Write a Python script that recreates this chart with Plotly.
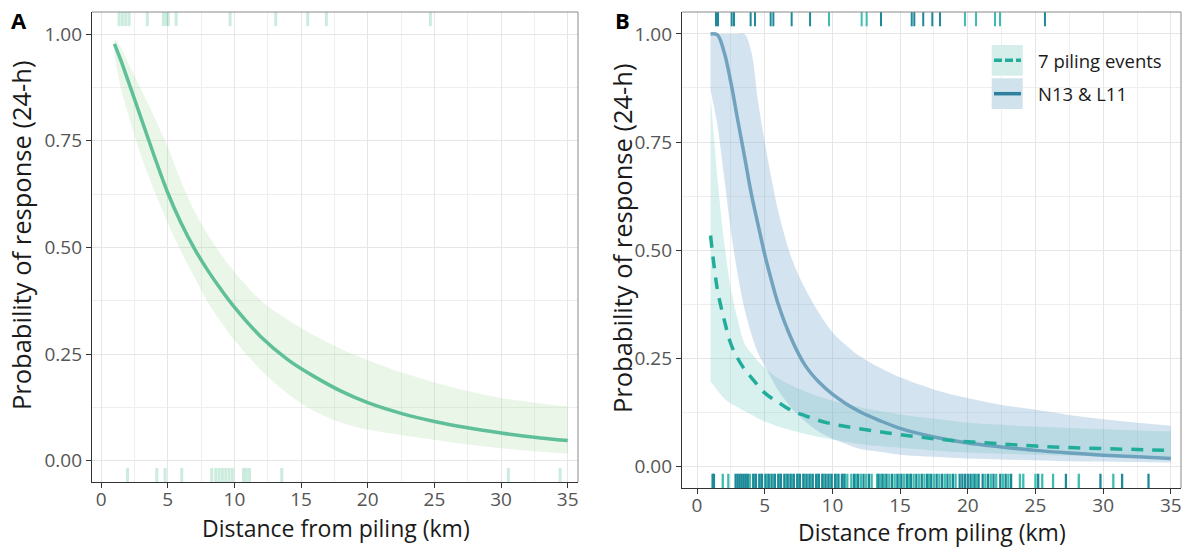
import plotly.graph_objects as go

# ---------------- Panel A data ----------------
dist_a = [1, 1.5, 2, 3, 4, 5, 6, 7, 8, 9, 10, 12, 14, 16, 18, 20, 22.5, 25, 27.5, 30, 32.5, 35]
fit_a = [0.977, 0.937, 0.893, 0.803, 0.713, 0.628, 0.557, 0.497, 0.446, 0.401, 0.360, 0.290, 0.237,
         0.197, 0.163, 0.136, 0.111, 0.092, 0.077, 0.065, 0.055, 0.047]
upper_a = [0.99, 0.968, 0.935, 0.87, 0.805, 0.735, 0.655, 0.585, 0.53, 0.483, 0.443, 0.375, 0.33,
           0.293, 0.262, 0.236, 0.207, 0.183, 0.163, 0.147, 0.136, 0.127]
lower_a = [0.95, 0.87, 0.815, 0.715, 0.632, 0.557, 0.49, 0.43, 0.372, 0.325, 0.283, 0.212, 0.157,
           0.116, 0.089, 0.073, 0.06, 0.049, 0.038, 0.029, 0.022, 0.016]
rug_a_top = [1.35, 1.6, 1.85, 2.1, 3.47, 4.67, 4.9, 5.05, 5.63, 9.68, 13.1, 15.5, 16.9, 24.7]
rug_a_bottom = [1.98, 4.18, 4.8, 6.05, 8.3, 8.6, 8.85, 9.1, 9.35, 9.6, 9.85, 10.68, 10.9, 11.13,
                13.55, 30.55, 34.43]

# ---------------- Panel B data ----------------
dist_b = [1, 1.5, 2, 2.5, 3, 3.5, 4, 4.5, 5, 5.5, 6, 7, 8, 9, 10, 11, 12, 13.5, 15, 17.5, 20,
          22.5, 25, 27.5, 30, 32.5, 35]
fit_n13 = [1.0, 0.998, 0.958, 0.888, 0.802, 0.718, 0.632, 0.56, 0.49, 0.43, 0.375, 0.293, 0.233,
           0.195, 0.167, 0.145, 0.127, 0.106, 0.088, 0.068, 0.054, 0.045, 0.037, 0.031, 0.026, 0.022, 0.018]
upper_n13 = [1.0, 1.0, 1.0, 1.0, 1.0, 1.0, 0.96, 0.845, 0.75, 0.665, 0.59, 0.48, 0.41, 0.355, 0.31,
             0.28, 0.255, 0.228, 0.206, 0.178, 0.158, 0.142, 0.131, 0.119, 0.109, 0.101, 0.094]
lower_n13 = [0.87, 0.79, 0.67, 0.545, 0.445, 0.365, 0.307, 0.262, 0.232, 0.203, 0.176, 0.134, 0.104,
             0.08, 0.064, 0.052, 0.041, 0.034, 0.027, 0.022, 0.018, 0.016, 0.014, 0.012, 0.011, 0.010, 0.009]
fit_7 = [0.534, 0.41, 0.34, 0.283, 0.25, 0.225, 0.206, 0.187, 0.17, 0.158, 0.148, 0.129, 0.117,
         0.106, 0.098, 0.092, 0.087, 0.080, 0.0735, 0.064, 0.057, 0.052, 0.047, 0.0435, 0.041, 0.039, 0.037]
upper_7 = [0.86, 0.67, 0.52, 0.41, 0.34, 0.285, 0.262, 0.243, 0.228, 0.215, 0.204, 0.187, 0.173,
           0.161, 0.152, 0.144, 0.137, 0.128, 0.12, 0.11, 0.101, 0.096, 0.092, 0.089, 0.086, 0.083, 0.081]
lower_7 = [0.196, 0.176, 0.157, 0.145, 0.137, 0.128, 0.12, 0.111, 0.104, 0.098, 0.092, 0.083, 0.075,
           0.068, 0.062, 0.057, 0.052, 0.047, 0.043, 0.037, 0.032, 0.029, 0.027, 0.025, 0.023, 0.021, 0.019]
rug_b_top_dark = [1.40, 1.55, 2.56, 2.73, 3.96, 4.28, 5.44, 5.64, 6.99, 8.35, 13.59, 15.86, 16.05,
                  16.71, 17.38, 17.95, 25.7]
rug_b_top_light = [9.75, 12.16, 12.53, 19.79, 20.61, 22.01, 22.38]
rug_b_bottom_dark = [1.15, 1.25, 2.85, 3.0, 3.15, 3.3, 3.45, 3.6, 3.75, 4.15, 4.35, 4.6, 4.8, 5.05,
                     5.3, 5.5, 5.75, 6.0, 6.2, 6.45, 6.7, 6.9, 7.15, 7.4, 7.6, 7.85, 8.1, 8.3, 8.55,
                     8.8, 9.0, 9.25, 9.5, 9.7, 9.95, 10.2, 10.45, 10.7, 10.9, 11.6, 11.9, 12.3, 12.7,
                     13.4, 13.7, 14.0, 14.4, 14.8, 15.1, 15.5, 15.8, 16.2, 16.6, 17.0, 17.3, 17.7,
                     18.1, 18.5, 18.9, 19.4, 19.6, 19.8, 20.0, 20.2, 20.5, 20.8, 21.1, 21.5, 21.9,
                     22.4, 22.8, 23.2, 25.2, 27.25, 29.8, 31.4, 33.35]
rug_b_bottom_light = [1.9, 2.31, 3.9, 4.25, 4.7, 5.2, 5.65, 6.1, 6.6, 7.0, 7.5, 7.95, 8.4, 8.95,
                      9.35, 9.85, 10.3, 10.8, 11.1, 11.4, 11.75, 12.1, 12.5, 12.9, 13.3, 13.55,
                      13.85, 14.2, 14.6, 14.95, 15.3, 15.65, 16.0, 16.4, 16.8, 17.15, 17.5, 17.9,
                      18.3, 18.7, 19.1, 20.35, 20.65, 21.3, 21.7, 22.1, 22.6, 23.0, 23.85, 24.1,
                      25.0, 25.5, 26.3, 28.2, 30.75]

x_ticks = [0, 5, 10, 15, 20, 25, 30, 35]
x_minor = [2.5, 7.5, 12.5, 17.5, 22.5, 27.5, 32.5]
y_ticks = [0, 0.25, 0.5, 0.75, 1.0]
y_ticklabels = ["0.00", "0.25", "0.50", "0.75", "1.00"]
y_minor = [0.125, 0.375, 0.625, 0.875]
legend_labels = ["7 piling events", "N13 & L11"]
x_title = "Distance from piling (km)"
y_title = "Probability of response (24-h)"

W, H = 1192, 547
FONT = "Open Sans"


def px(x):
    return x / W


def py(y):
    return 1 - y / H


fig = go.Figure()

# Panel A
fig.add_trace(go.Scatter(x=dist_a, y=upper_a, mode="lines", line=dict(width=0, shape="spline"),
                         hoverinfo="skip", showlegend=False, xaxis="x", yaxis="y"))
fig.add_trace(go.Scatter(x=dist_a, y=lower_a, mode="lines", line=dict(width=0, shape="spline"),
                         fill="tonexty", fillcolor="rgba(150,210,140,0.2)",
                         hoverinfo="skip", showlegend=False, xaxis="x", yaxis="y"))
fig.add_trace(go.Scatter(x=dist_a, y=fit_a, mode="lines",
                         line=dict(color="#5ebf98", width=3.5, shape="spline"),
                         showlegend=False, xaxis="x", yaxis="y"))

# Panel B bands
fig.add_trace(go.Scatter(x=dist_b, y=upper_7, mode="lines", line=dict(width=0, shape="spline"),
                         hoverinfo="skip", showlegend=False, xaxis="x2", yaxis="y2"))
fig.add_trace(go.Scatter(x=dist_b, y=lower_7, mode="lines", line=dict(width=0, shape="spline"),
                         fill="tonexty", fillcolor="rgba(60,185,170,0.2)",
                         hoverinfo="skip", showlegend=False, xaxis="x2", yaxis="y2"))
fig.add_trace(go.Scatter(x=dist_b, y=upper_n13, mode="lines", line=dict(width=0, shape="spline"),
                         hoverinfo="skip", showlegend=False, xaxis="x2", yaxis="y2"))
fig.add_trace(go.Scatter(x=dist_b, y=lower_n13, mode="lines", line=dict(width=0, shape="spline"),
                         fill="tonexty", fillcolor="rgba(120,170,205,0.33)",
                         hoverinfo="skip", showlegend=False, xaxis="x2", yaxis="y2"))
fig.add_trace(go.Scatter(x=dist_b, y=fit_n13, mode="lines",
                         line=dict(color="rgba(95,152,182,0.85)", width=3.5, shape="spline"),
                         showlegend=False, xaxis="x2", yaxis="y2"))
fig.add_trace(go.Scatter(x=dist_b, y=fit_7, mode="lines",
                         line=dict(color="#22ad9b", width=3.5, shape="spline", dash="12px,9px"),
                         showlegend=False, xaxis="x2", yaxis="y2"))

shapes = []


def rug(values, xref, yref, bottom, color, width):
    for v in values:
        y0, y1 = (0, 0.03) if bottom else (0.97, 1.0)
        shapes.append(dict(type="line", xref=xref, yref=yref + " domain", x0=v, x1=v, y0=y0, y1=y1,
                           line=dict(color=color, width=width), layer="above"))


rug(rug_a_top, "x", "y", False, "rgba(110,200,160,0.35)", 3)
rug(rug_a_bottom, "x", "y", True, "rgba(110,200,160,0.35)", 3)
rug(rug_b_top_light, "x2", "y2", False, "#3dbdad", 2)
rug(rug_b_top_dark, "x2", "y2", False, "#1d8a9a", 2)
rug(rug_b_bottom_light, "x2", "y2", True, "#3dbdad", 2.3)
rug(rug_b_bottom_dark, "x2", "y2", True, "#1d8a9a", 2.3)

# top/right panel borders
for xr, yr in (("x", "y"), ("x2", "y2")):
    shapes.append(dict(type="line", xref=xr + " domain", yref=yr + " domain", x0=0, x1=1, y0=1, y1=1,
                       line=dict(color="#8a8a8a", width=1), layer="above"))
    shapes.append(dict(type="line", xref=xr + " domain", yref=yr + " domain", x0=1, x1=1, y0=0, y1=1,
                       line=dict(color="#8a8a8a", width=1), layer="above"))

# legend keys (manual, ggplot style)
key_boxes = [(45, 75.7, "#d5eeea"), (78.3, 109, "#d0e2ec")]
key_lines = [(60.3, "#22ad9b", "8px,3px"), (93.7, "#2f7f9f", "solid")]
for (t, b, c) in key_boxes:
    shapes.append(dict(type="rect", xref="paper", yref="paper", x0=px(991.7), x1=px(1022.7),
                       y0=py(b), y1=py(t), fillcolor=c, line=dict(width=0), layer="above"))
for (yy, c, dsh) in key_lines:
    shapes.append(dict(type="line", xref="paper", yref="paper", x0=px(994), x1=px(1021),
                       y0=py(yy), y1=py(yy), line=dict(color=c, width=3.5, dash=dsh), layer="above"))


def ann(text, x, y, size, color="#1a1a1a", angle=0, xanchor="center"):
    return dict(text=text, x=px(x), y=py(y), xref="paper", yref="paper", showarrow=False,
                xanchor=xanchor, yanchor="middle", textangle=angle,
                font=dict(size=size, color=color, family=FONT))


annotations = [
    ann("<b>A</b>", 19, 20, 22, "black"),
    ann("<b>B</b>", 622, 20, 22, "black"),
    ann(x_title, 336, 528, 23),
    ann(x_title, 932, 532, 23),
    ann(y_title, 21, 236, 25.5, angle=-90),
    ann(y_title, 622, 239, 25.5, angle=-90),
    ann(legend_labels[0], 1036, 60.3, 18.5, xanchor="left"),
    ann(legend_labels[1], 1036, 93.7, 18.5, xanchor="left"),
]


def xaxis(domain, rng, anchor):
    return dict(domain=domain, range=rng, anchor=anchor, tickmode="array", tickvals=x_ticks,
                ticks="outside", ticklen=5, tickwidth=1.2, tickcolor="#333333",
                showline=True, linecolor="#333333", linewidth=1.3, mirror=False,
                showgrid=True, gridcolor="#e6e6e6", gridwidth=1.2, zeroline=False,
                minor=dict(tickvals=x_minor, showgrid=True, gridcolor="#efefef", gridwidth=1),
                tickfont=dict(size=19, color="#555555", family=FONT), automargin=False,
                fixedrange=True)


def yaxis(domain, rng, anchor):
    return dict(domain=domain, range=rng, anchor=anchor, tickmode="array", tickvals=y_ticks,
                ticktext=y_ticklabels, ticks="outside", ticklen=5, tickwidth=1.2, tickcolor="#333333",
                showline=True, linecolor="#333333", linewidth=1.3, mirror=False,
                showgrid=True, gridcolor="#e6e6e6", gridwidth=1.2, zeroline=False,
                minor=dict(tickvals=y_minor, showgrid=True, gridcolor="#efefef", gridwidth=1),
                tickfont=dict(size=19, color="#555555", family=FONT), automargin=False,
                fixedrange=True)


fig.update_layout(
    width=W, height=H, template="none",
    margin=dict(l=0, r=0, t=0, b=0),
    paper_bgcolor="white", plot_bgcolor="white",
    font=dict(family=FONT),
    showlegend=False,
    xaxis=xaxis([px(92), px(578)], [-0.68, 35.77], "y"),
    yaxis=yaxis([py(482), py(12)], [-0.05, 1.0516], "x"),
    xaxis2=xaxis([px(682), px(1181)], [-1.11, 35.75], "y2"),
    yaxis2=yaxis([py(488), py(12)], [-0.05, 1.0507], "x2"),
    shapes=shapes,
    annotations=annotations,
)

try:
    fig.update_xaxes(ticklabelstandoff=-5)
except Exception:
    pass

fig.write_html("out.html", config={"displayModeBar": False},
               post_script="document.body.style.margin='0';document.body.style.overflow='hidden';")
